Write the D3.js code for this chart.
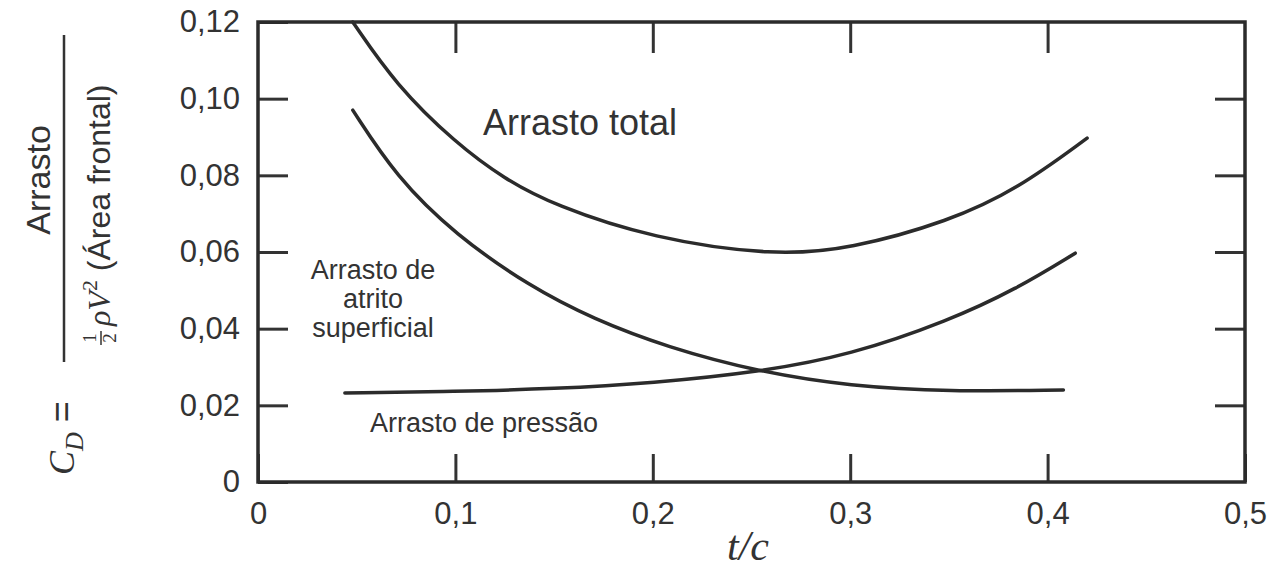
<!DOCTYPE html>
<html>
<head>
<meta charset="utf-8">
<script src="https://cdn.jsdelivr.net/npm/d3@7"></script>
<style>
  body { margin: 0; background: #fff; }
  svg { display: block; }
  .tick text { font-family: "Liberation Sans", Arial, sans-serif; font-size: 31px; fill: #333; }
  .tick line { stroke: #333; stroke-width: 3; }
</style>
</head>
<body>
<script>
// values
const xTicks = [0, 0.1, 0.2, 0.3, 0.4, 0.5];
const yTicks = [0, 0.02, 0.04, 0.06, 0.08, 0.10, 0.12];

const totalT = [0.048, 0.070, 0.100, 0.125, 0.150, 0.200, 0.262, 0.300, 0.350, 0.385, 0.420];
const totalCd = [0.1200, 0.1035, 0.0885, 0.0790, 0.0722, 0.0635, 0.0590, 0.0608, 0.0680, 0.0765, 0.0897];

const frictionT = [0.048, 0.070, 0.100, 0.138, 0.170, 0.207, 0.254, 0.300, 0.350, 0.408];
const frictionCd = [0.0970, 0.0796, 0.0645, 0.0509, 0.0425, 0.0352, 0.0287, 0.0250, 0.0236, 0.0240];

const pressureT = [0.044, 0.100, 0.150, 0.200, 0.254, 0.300, 0.350, 0.384, 0.414];
const pressureCd = [0.0232, 0.0236, 0.0243, 0.0258, 0.0287, 0.0331, 0.0421, 0.0503, 0.0597];

const chartWidth = 1274, chartHeight = 570;
const plotLeft = 258, plotRight = 1245, plotTop = 22, plotBottom = 482;
const ink = "#2b2b2b";

const svg = d3.select("body").append("svg")
  .attr("width", chartWidth)
  .attr("height", chartHeight);

const x = d3.scaleLinear().domain([0, 0.5]).range([plotLeft, plotRight]);
const y = d3.scaleLinear().domain([0, 0.12]).range([plotBottom, plotTop]);

const fmtY = d => d === 0 ? "0" : d3.format(".2f")(d).replace(".", ",");
const fmtX = d => d === 0 ? "0" : d3.format(".1f")(d).replace(".", ",");

// axes, ticks pointing inward
svg.append("g")
  .attr("transform", `translate(${plotLeft},0)`)
  .call(d3.axisLeft(y).tickValues(yTicks).tickSizeInner(-30).tickSizeOuter(0).tickPadding(18).tickFormat(fmtY))
  .call(g => g.select(".domain").remove());

svg.append("g")
  .attr("transform", `translate(0,${plotBottom})`)
  .call(d3.axisBottom(x).tickValues(xTicks).tickSizeInner(-28).tickSizeOuter(0).tickPadding(20).tickFormat(fmtX))
  .call(g => g.select(".domain").remove());

svg.append("g")
  .attr("transform", `translate(0,${plotTop})`)
  .call(d3.axisTop(x).tickValues(xTicks.slice(1, -1)).tickSizeInner(-31).tickSizeOuter(0).tickFormat(""))
  .call(g => g.select(".domain").remove());

svg.append("g")
  .attr("transform", `translate(${plotRight},0)`)
  .call(d3.axisRight(y).tickValues(yTicks.slice(1, -1)).tickSizeInner(-30).tickSizeOuter(0).tickFormat(""))
  .call(g => g.select(".domain").remove());

svg.append("rect")
  .attr("x", plotLeft).attr("y", plotTop)
  .attr("width", plotRight - plotLeft).attr("height", plotBottom - plotTop)
  .attr("fill", "none").attr("stroke", ink).attr("stroke-width", 3.5);

// curves
const line = d3.line()
  .x(d => x(d[0]))
  .y(d => y(d[1]))
  .curve(d3.curveBasis);

const series = [
  d3.zip(totalT, totalCd),
  d3.zip(frictionT, frictionCd),
  d3.zip(pressureT, pressureCd)
];

svg.selectAll("path.curve")
  .data(series)
  .enter()
  .append("path")
  .attr("class", "curve")
  .attr("d", line)
  .attr("fill", "none")
  .attr("stroke", ink)
  .attr("stroke-width", 3.5)
  .attr("stroke-linecap", "round");

// curve labels
const sans = "'Liberation Sans', Arial, sans-serif";
const serif = "'Liberation Serif', 'Times New Roman', serif";

svg.append("text")
  .attr("x", 483).attr("y", 135)
  .attr("font-family", sans).attr("font-size", 36).attr("fill", "#333")
  .text("Arrasto total");

svg.append("text")
  .attr("x", 370).attr("y", 432)
  .attr("font-family", sans).attr("font-size", 27).attr("fill", "#333")
  .text("Arrasto de pressão");

const fr = svg.append("text")
  .attr("font-family", sans).attr("font-size", 27).attr("fill", "#333")
  .attr("text-anchor", "middle");
["Arrasto de", "atrito", "superficial"].forEach((s, i) => {
  fr.append("tspan").attr("x", 373).attr("y", 279 + i * 29).text(s);
});

// x label
svg.append("text")
  .attr("x", 748).attr("y", 560)
  .attr("text-anchor", "middle")
  .attr("font-family", serif)
  .attr("font-style", "italic").attr("font-size", 42).attr("fill", "#333")
  .text("t/c");

// y label: C_D = Arrasto / (1/2 rho V^2 (Área frontal)), rotated
const yl = svg.append("g").attr("transform", "rotate(-90)").attr("fill", "#333");

yl.append("line")
  .attr("x1", -362).attr("x2", -35).attr("y1", 64).attr("y2", 64)
  .attr("stroke", "#333").attr("stroke-width", 2.5);

yl.append("text")
  .attr("x", -180).attr("y", 50)
  .attr("text-anchor", "middle")
  .attr("font-family", sans).attr("font-size", 34)
  .text("Arrasto");

// 1/2 stacked
yl.append("text").attr("x", -338).attr("y", 96)
  .attr("text-anchor", "middle").attr("font-family", serif).attr("font-size", 19).text("1");
yl.append("line").attr("x1", -345).attr("x2", -331).attr("y1", 101).attr("y2", 101)
  .attr("stroke", "#333").attr("stroke-width", 1.5);
yl.append("text").attr("x", -338).attr("y", 116)
  .attr("text-anchor", "middle").attr("font-family", serif).attr("font-size", 19).text("2");

const den = yl.append("text")
  .attr("x", -326).attr("y", 110)
  .attr("font-size", 32);
den.append("tspan").attr("font-family", serif).attr("font-style", "italic").text("ρV");
den.append("tspan").attr("font-family", serif).attr("font-size", 22).attr("dy", -13).text("2");
den.append("tspan").attr("font-family", sans).attr("dy", 13).text("\u00a0(Área frontal)");

const cd = yl.append("text")
  .attr("x", -475).attr("y", 74)
  .attr("font-size", 36);
cd.append("tspan").attr("font-family", serif).attr("font-style", "italic").text("C");
cd.append("tspan").attr("font-family", serif).attr("font-style", "italic").attr("font-size", 26).attr("dy", 9).text("D");
cd.append("tspan").attr("font-family", sans).attr("dy", -9).text("\u00a0=");
</script>
</body>
</html>
